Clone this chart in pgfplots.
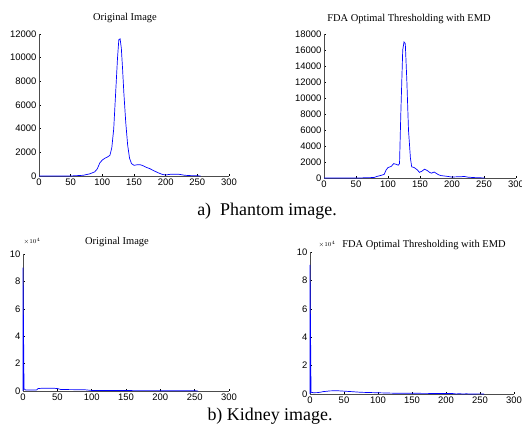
\documentclass[border=0pt]{standalone}
\usepackage{fontspec}
\setmainfont{Liberation Serif}
\setsansfont{Liberation Sans}
\usepackage{pgfplots}
\pgfplotsset{compat=1.18}

\pgfplotsset{
  histo/.style={
    scale only axis,
    axis lines*=left,
    axis line style={-, gray!60!black, line width=0.8pt},
    tick align=inside,
    major tick length=2pt,
    tick style={black, line width=0.5pt},
    xmin=0, xmax=300, ymin=0,
    xtick={0,50,...,300},
    ticklabel style={font=\sffamily\fontsize{9.5}{10}\selectfont, black},
    /pgf/number format/assume math mode=true,
    /pgf/number format/1000 sep={},
    xticklabel style={yshift=1pt},
    yticklabel style={xshift=1pt},
    clip=false,
  },
  hline/.style={blue, line width=0.7pt},
}

\begin{document}
\begin{tikzpicture}[x=1bp,y=1bp]

% a) Phantom, original
\begin{axis}[histo, at={(39bp,258bp)}, anchor=origin,
  width=190bp, height=142bp, ymax=12000, ytick={0,2000,...,12000},
  scaled y ticks=false]
\addplot[hline] coordinates {
(0,0) (50,0) (60,30) (70,60) (80,180) (88,350) (92,600) (96,1100) (100,1350)
(104,1500) (108,1600) (112,1750) (115,2400) (118,4000) (121,7000) (124,10000)
(126,11500) (128,11600) (130,10800) (132,9000) (134,7000) (137,4500) (140,2600)
(143,1500) (146,1050) (150,900) (155,950) (160,950) (165,850) (170,720)
(175,620) (180,480) (185,350) (190,230) (195,130) (200,80) (205,130) (210,150)
(220,150) (225,110) (230,60) (240,30) (250,20) (255,0)};
\end{axis}
\node[font=\fontsize{10.5}{12}\selectfont, anchor=base] at (125,413) {Original Image};

% a) Phantom, FDA
\begin{axis}[histo, at={(324bp,256bp)}, anchor=origin,
  width=192bp, height=144bp, ymax=18000, ytick={0,2000,...,18000},
  scaled y ticks=false]
\addplot[hline] coordinates {
(0,0) (55,0) (65,30) (78,60) (83,200) (90,350) (94,450) (97,1000) (100,1300)
(105,1450) (109,1800) (113,1700) (116,1600) (118,1800) (120,8000) (123,16000)
(125,17000) (127,16800) (129.5,12000) (132,6000) (135,2500) (137,1400) (141,1300)
(146,1000) (149,700) (153,850) (157,1100) (161,950) (165,700) (168,600) (172,750)
(175,600) (179,400) (183,300) (188,250) (193,200) (199,120) (209,150) (214,150)
(219,200) (225,100) (235,50) (245,20) (251,0)};
\end{axis}
\node[font=\fontsize{10.5}{12}\selectfont, anchor=base] at (409,412) {FDA Optimal Thresholding with EMD};

\node[font=\fontsize{18}{20}\selectfont, anchor=base] at (267,218) {a)\ \ Phantom image.};

% b) Kidney, original
\begin{axis}[histo, at={(23bp,43bp)}, anchor=origin,
  width=206bp, height=137bp, ymax=100000, ytick={0,20000,...,100000},
  scaled y ticks=base 10:-4, ytick scale label code/.code={}]
\addplot[hline] coordinates {
(0,0) (0,90000) (1.5,1500) (4,700) (10,700) (20,800) (22,1800) (28,2000)
(35,2000) (45,2000) (50,1800) (55,1100) (70,1000) (90,900) (100,400)
(150,300) (200,250) (250,200) (255,0)};
\end{axis}
\node[font=\fontsize{6}{7}\selectfont, anchor=base west] at (20,190) {$\times10^4$};
\node[font=\fontsize{10.5}{12}\selectfont, anchor=base] at (117,189) {Original Image};

% b) Kidney, FDA
\begin{axis}[histo, at={(310bp,40bp)}, anchor=origin,
  width=204bp, height=142bp, ymax=100000, ytick={0,20000,...,100000},
  scaled y ticks=base 10:-4, ytick scale label code/.code={}]
\addplot[hline] coordinates {
(0,0) (0,91000) (1.5,1200) (5,900) (12,1000) (20,1700) (30,2200) (40,2300)
(50,2000) (60,1700) (75,1200) (90,1000) (105,800) (120,600) (150,500)
(180,400) (210,300) (215,50) (220,200) (225,0) (230,150) (235,0) (250,100) (256,0)};
\end{axis}
\node[font=\fontsize{6}{7}\selectfont, anchor=base west] at (315,187) {$\times10^4$};
\node[font=\fontsize{10.5}{12}\selectfont, anchor=base] at (424,186) {FDA Optimal Thresholding with EMD};

\node[font=\fontsize{18}{20}\selectfont, anchor=base] at (270,13) {b) Kidney image.};

\pgfresetboundingbox
\path[use as bounding box] (0,0) rectangle (522,434);
\end{tikzpicture}
\end{document}
